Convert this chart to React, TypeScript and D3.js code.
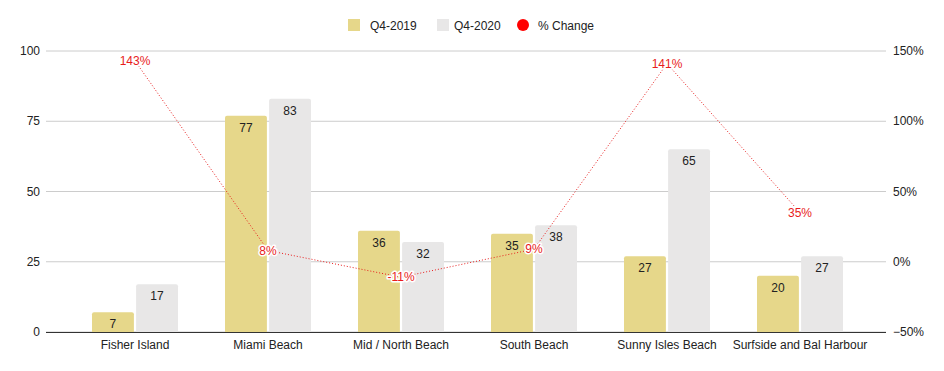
import React from "react";
import * as d3 from "d3";

const categories = ["Fisher Island", "Miami Beach", "Mid / North Beach", "South Beach", "Sunny Isles Beach", "Surfside and Bal Harbour"];
const q2019 = [7, 77, 36, 35, 27, 20];
const q2020 = [17, 83, 32, 38, 65, 27];
const pctChange = [1.43, 0.08, -0.11, 0.09, 1.41, 0.35];
const pctLabels = ["143%", "8%", "-11%", "9%", "141%", "35%"];
const leftTicks = [0, 25, 50, 75, 100];
const rightTicks = [-0.5, 0, 0.5, 1, 1.5];
const seriesNames = ["Q4-2019", "Q4-2020", "% Change"];

const W = 944;
const H = 371;
const GOLD = "#e6d78a";
const GREY = "#e8e7e7";
const RED = "#e81c1c";
const FONT = "'Liberation Sans', Arial, sans-serif";

export default function App() {
  const plotL = 46, plotR = 886, top = 51, bottom = 332;
  const x = d3.scaleBand<string>().domain(categories).range([68.5, 866.5]).paddingInner(0).paddingOuter(0);
  const y = d3.scaleLinear().domain([0, 100]).range([bottom, top]);
  const y2 = d3.scaleLinear().domain([-0.5, 1.5]).range([bottom, top]);
  const inner = d3.scaleBand<string>().domain(["a", "b"]).range([0, 86]).paddingInner(0.05);
  const groupOff = (x.bandwidth() - 86) / 2;

  const line = d3.line<number>()
    .x((_, i) => (x(categories[i]) as number) + x.bandwidth() / 2)
    .y((d) => y2(d));

  const barPath = (x0: number, w: number, y0: number, y1: number, r: number) => {
    const rr = Math.min(r, (y1 - y0) / 2);
    return `M${x0},${y1}V${y0 + rr}Q${x0},${y0} ${x0 + rr},${y0}H${x0 + w - rr}Q${x0 + w},${y0} ${x0 + w},${y0 + rr}V${y1}Z`;
  };

  return (
    <svg width={W} height={H} style={{ display: "block", position: "absolute", left: 0, top: 0 }} fontFamily={FONT}>
      <rect width={W} height={H} fill="#fff" />
      {/* legend */}
      <g fontSize={12} fill="#222">
        <rect x={348} y={19} width={12} height={12} fill={GOLD} />
        <text x={370} y={29.5}>{seriesNames[0]}</text>
        <rect x={437} y={19} width={12} height={12} fill={GREY} />
        <text x={454} y={29.5}>{seriesNames[1]}</text>
        <circle cx={523} cy={25} r={6} fill="#ff0000" />
        <text x={538} y={29.5}>{seriesNames[2]}</text>
      </g>
      {/* grid */}
      {leftTicks.map((t) => (
        <line key={t} x1={plotL} x2={plotR} y1={y(t)} y2={y(t)} stroke="#cccccc" strokeWidth={1} />
      ))}
      {leftTicks.map((t) => (
        <text key={"l" + t} x={40} y={y(t) + 4} textAnchor="end" fontSize={12} fill="#222">{t}</text>
      ))}
      {rightTicks.map((t) => (
        <text key={"r" + t} x={893} y={y2(t) + 4} textAnchor="start" fontSize={12} fill="#222">{d3.format(".0%")(t)}</text>
      ))}
      {/* bars */}
      {categories.map((c, i) => {
        const gx = (x(c) as number) + groupOff;
        const xa = gx + (inner("a") as number);
        const xb = gx + (inner("b") as number);
        const bw = inner.bandwidth();
        return (
          <g key={c}>
            <path d={barPath(xa, bw, y(q2019[i]), y(0), 2)} fill={GOLD} />
            <path d={barPath(xb, bw, y(q2020[i]), y(0), 2)} fill={GREY} />
            <text x={xa + bw / 2} y={y(q2019[i]) + 16} textAnchor="middle" fontSize={12} fill="#222">{q2019[i]}</text>
            <text x={xb + bw / 2} y={y(q2020[i]) + 16} textAnchor="middle" fontSize={12} fill="#222">{q2020[i]}</text>
            <text x={(x(c) as number) + x.bandwidth() / 2} y={349} textAnchor="middle" fontSize={12} fill="#222">{c}</text>
          </g>
        );
      })}
      <line x1={plotL} x2={plotR} y1={bottom + 0.5} y2={bottom + 0.5} stroke="#333" strokeWidth={1} />
      {/* line */}
      <path d={line(pctChange) || ""} fill="none" stroke={RED} strokeWidth={1} strokeDasharray="1,2" />
      {pctChange.map((v, i) => (
        <text key={i} x={(x(categories[i]) as number) + x.bandwidth() / 2} y={y2(v) + 4} textAnchor="middle" fontSize={12}
          fill={RED} stroke="#fff" strokeWidth={3} strokeLinejoin="round" paintOrder="stroke">{pctLabels[i]}</text>
      ))}
    </svg>
  );
}
